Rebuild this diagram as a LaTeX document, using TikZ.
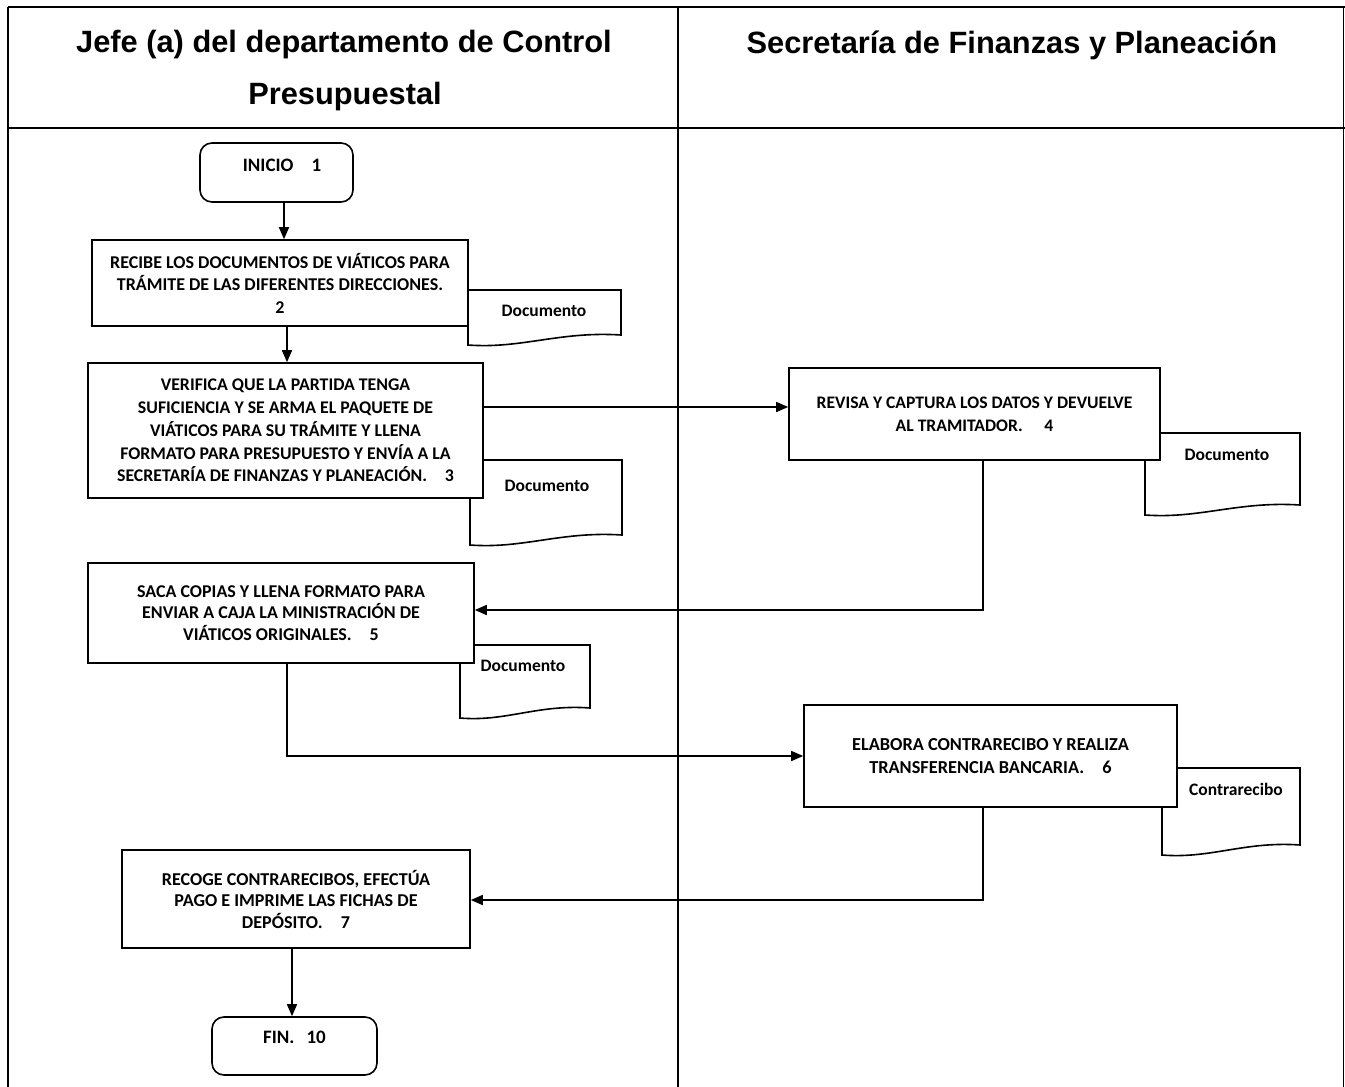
\documentclass[tikz,border=0pt]{standalone}
\usepackage{fontspec}
\setmainfont{Carlito}
\newfontfamily\hdfont{Liberation Sans}
\usetikzlibrary{arrows.meta}
\tikzset{
  frameline/.style={line width=1.8pt},
  procbox/.style={draw, line width=1.6pt, fill=white, align=center, inner sep=0pt},
  termbox/.style={procbox, rounded corners=12pt, font=\fontsize{19}{22}\selectfont\bfseries},
  docline/.style={draw, line width=1.6pt, fill=white},
  doctext/.style={font=\fontsize{17.5}{20}\selectfont\bfseries, inner sep=0pt},
  hdtext/.style={font=\hdfont\fontsize{30.8}{36}\selectfont\bfseries, inner sep=0pt},
  arr/.style={line width=1.5pt, -{Triangle[length=12pt,width=10pt]}}
}
\newcommand\docshp[4]{\path[docline] (#1,#2) -- (#1,#4) .. controls ({#1+0.35*(#3-#1)},{#4+4}) and ({#1+0.6*(#3-#1)},{#4-14}) .. (#3,{#4-10}) -- (#3,#2) -- cycle;}
\begin{document}
\begin{tikzpicture}[x=1pt,y=-1pt]
\useasboundingbox (0,0) rectangle (1345,1087);
% table frame
\draw[frameline] (8,7) -- (1345,7);
\draw[frameline] (8,128) -- (1345,128);
\draw[frameline] (8,7) -- (8,1087);
\draw[frameline] (678,7) -- (678,1087);
\draw[line width=1pt] (1343,7) -- (1343,1087);
% headers
\node[hdtext] (h1) at (344,45) {Jefe (a) del departamento de Control};
\node[hdtext] (h1b) at (345,97) {Presupuestal};
\node[hdtext] (h2) at (1012,45) {Secretaría de Finanzas y Planeación};
% documents (behind boxes)
\docshp{468}{290}{621}{345}
\node[doctext] (d1) at (544,311) {Documento};
\docshp{470}{460}{622}{545}
\node[doctext] (d2) at (547,486) {Documento};
\docshp{1145}{433}{1300}{515}
\node[doctext] (d3) at (1227,455) {Documento};
\docshp{460}{645}{590}{718}
\node[doctext] (d4) at (523,666) {Documento};
\docshp{1162}{768}{1300}{855}
\node[doctext] (d5) at (1236,789) {Contrarecibo};
% process boxes
\node[termbox, minimum width=153pt, minimum height=59pt, text depth=15pt] (ini) at (276.5,172.5) {\hspace*{11pt}INICIO\hspace{18pt}1};
\node[procbox, minimum width=376pt, minimum height=86pt, font=\fontsize{18}{22.5}\selectfont\bfseries] (b2) at (280,283)
  {RECIBE LOS DOCUMENTOS DE VIÁTICOS PARA\\TRÁMITE DE LAS DIFERENTES DIRECCIONES.\\2};
\node[procbox, minimum width=395pt, minimum height=135pt, font=\fontsize{17.8}{22.75}\selectfont\bfseries] (b3) at (285.5,430.5)
  {VERIFICA QUE LA PARTIDA TENGA\\SUFICIENCIA Y SE ARMA EL PAQUETE DE\\VIÁTICOS PARA SU TRÁMITE Y LLENA\\FORMATO PARA PRESUPUESTO Y ENVÍA A LA\\SECRETARÍA DE FINANZAS Y PLANEACIÓN.\quad 3};
\node[procbox, minimum width=371pt, minimum height=92pt, font=\fontsize{17.6}{23}\selectfont\bfseries] (b4) at (974.5,414)
  {REVISA Y CAPTURA LOS DATOS Y DEVUELVE\\AL TRAMITADOR.\quad\ 4};
\node[procbox, minimum width=386pt, minimum height=100pt, font=\fontsize{18}{21.5}\selectfont\bfseries] (b5) at (281,613)
  {SACA COPIAS Y LLENA FORMATO PARA\\ENVIAR A CAJA LA MINISTRACIÓN DE\\VIÁTICOS ORIGINALES.\quad 5};
\node[procbox, minimum width=373pt, minimum height=102pt, font=\fontsize{18.3}{23}\selectfont\bfseries] (b6) at (990.5,756)
  {ELABORA CONTRARECIBO Y REALIZA\\TRANSFERENCIA BANCARIA.\quad 6};
\node[procbox, minimum width=348pt, minimum height=98pt, font=\fontsize{18.1}{21.5}\selectfont\bfseries] (b7) at (296,899)
  {RECOGE CONTRARECIBOS, EFECTÚA\\PAGO E IMPRIME LAS FICHAS DE\\DEPÓSITO.\quad 7};
\node[termbox, minimum width=165pt, minimum height=58pt, text depth=18pt] (fin) at (294.5,1046) {FIN.\hspace{12pt}10};
% guide coordinates
\coordinate (x1) at (284,0);
\coordinate (x2) at (287,0);
\coordinate (y3) at (0,407);
\coordinate (x4) at (983,0);
\coordinate (y4) at (0,610);
\coordinate (x5) at (287,0);
\coordinate (x6) at (983,0);
\coordinate (y6) at (0,900);
\coordinate (x7) at (292,0);
% connectors
\draw[arr] (ini.south -| x1) -- (b2.north -| x1);
\draw[arr] (b2.south -| x2) -- (b3.north -| x2);
\draw[arr] (b3.east |- y3) -- (b4.west |- y3);
\draw[arr] (b4.south -| x4) -- (x4 |- y4) -- (b5.east |- y4);
\draw[arr] (b5.south -| x5) -- (x5 |- b6.west) -- (b6.west);
\draw[arr] (b6.south -| x6) -- (x6 |- y6) -- (b7.east |- y6);
\draw[arr] (b7.south -| x7) -- (fin.north -| x7);
\end{tikzpicture}
\end{document}
